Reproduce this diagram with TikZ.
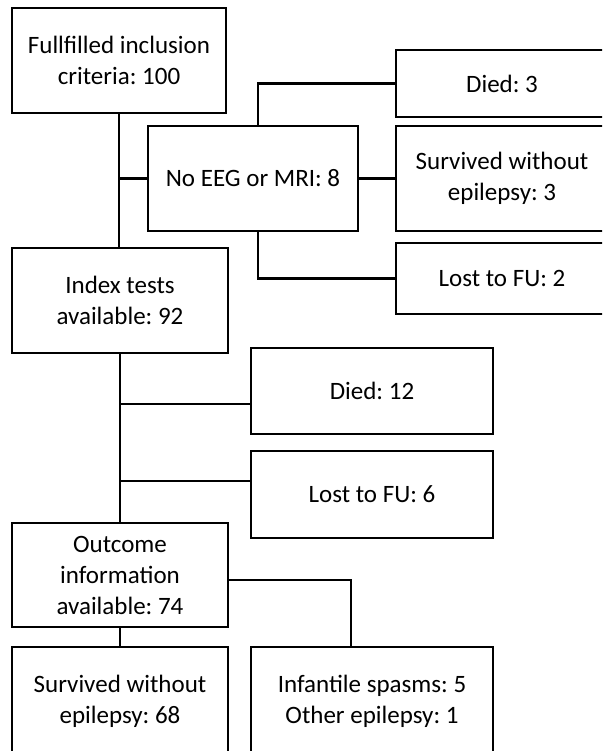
\documentclass[tikz,border=0pt]{standalone}
\usepackage{fontspec}
\setmainfont{Carlito}
\frenchspacing
\usetikzlibrary{calc}
\tikzstyle{flowbox}=[draw,line width=2.2pt,align=center,inner sep=0pt,font=\fontsize{25}{31}\selectfont]
\tikzstyle{link}=[line width=2.2pt]
\def\boxnode(#1)(#2,#3)(#4,#5)#6% Syntax: (name) (left,top) (right,bottom) {text}
    { \node[flowbox,minimum width={(#4-#2)*1pt},minimum height={(#5-#3)*1pt}] (#1) at ({(#2+#4)/2},{(#3+#5)/2}) {#6}; }

\begin{document}
\begin{tikzpicture}[x=1pt,y=-1pt]
\clip (0,0) rectangle (602,751);
% left column
\boxnode(full)(12,8)(226,113){Fullfilled inclusion\\criteria: 100}
\boxnode(index)(12,248)(228,353){Index tests\\available: 92}
\boxnode(outcome)(12,523)(228,627){Outcome\\information\\available: 74}
\boxnode(surv68)(12,647)(228,756){Survived without\\epilepsy: 68}
% no index tests
\boxnode(noeeg)(148,126)(358,231){No EEG or MRI: 8}
\boxnode(died3)(396,50)(608,117){Died: 3}
\boxnode(surv3)(396,126)(608,231){Survived without\\epilepsy: 3}
\boxnode(lost2)(396,243)(608,314){Lost to FU: 2}
% excluded after index tests
\boxnode(died12)(251,348)(493,434){Died: 12}
\boxnode(lost6)(251,451)(493,538){Lost to FU: 6}
\boxnode(infant)(251,647)(493,756){Infantile spasms: 5\\Other epilepsy: 1}

\draw[link] (full.south) -- (full.south |- index.north);
\draw[link] (full.south |- noeeg.west) -- (noeeg.west);
\draw[link] ([xshift=111pt]noeeg.north west) |- (died3.west);
\draw[link] (noeeg.east) -- (surv3.west);
\draw[link] ([xshift=111pt]noeeg.south west) |- (lost2.west);

\coordinate (d12in) at ([yshift=-13pt]died12.west);
\coordinate (l6in) at ([yshift=13.5pt]lost6.west);
\draw[link] (index.south) -- (outcome.north);
\draw[link] (index.south |- d12in) -- (d12in);
\draw[link] (index.south |- l6in) -- (l6in);

\coordinate (infin) at ([xshift=-21pt]infant.north);
\draw[link] ([yshift=-5pt]outcome.east) -| (infin);
\draw[link] (outcome.south) -- (surv68.north);
\end{tikzpicture}
\end{document}
